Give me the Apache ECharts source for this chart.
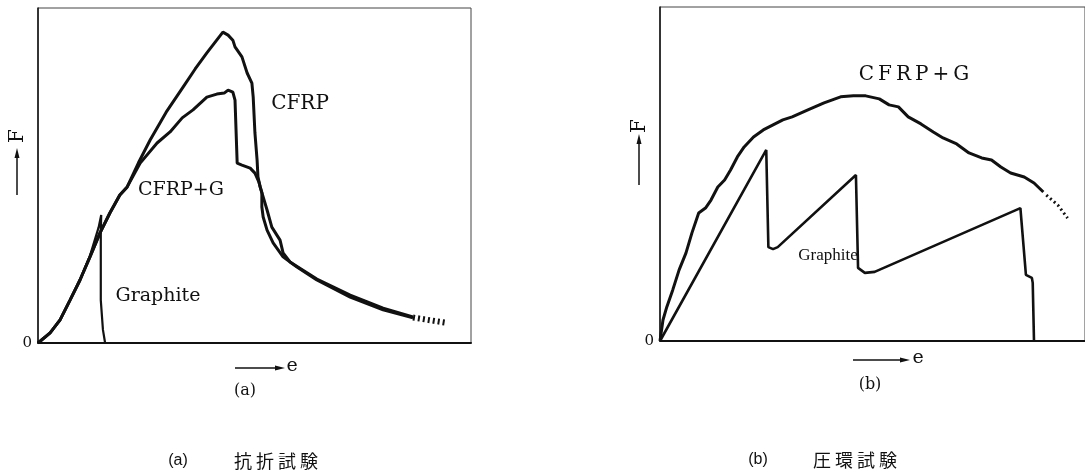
<!DOCTYPE html>
<html>
<head>
<meta charset="utf-8">
<script src="https://cdn.jsdelivr.net/npm/echarts/dist/echarts.min.js"></script>
<style>
  body { margin: 0; background: #fff; }
  #chart { width: 1085px; height: 473px; }
</style>
</head>
<body>
<div id="chart"></div>
<script>
// (a) 抗折試験 — common rising part of CFRP / CFRP+G
var aRise = [[0, 0], [2.8, 3.0], [5.1, 6.9], [7.4, 12.8], [9.7, 18.8], [12.0, 25.7], [14.3, 32.8], [16.6, 38.8], [18.9, 44.2], [20.6, 46.6]];
var aCfrp = [[23.2, 53.8], [25.9, 60.6], [29.6, 68.9], [33.5, 76.4], [36.3, 81.8], [39.0, 86.6], [42.7, 92.8], [43.9, 91.9], [45.0, 90.4], [45.5, 88.4], [47.1, 85.4], [48.3, 80.6], [49.4, 77.6], [49.7, 73.4], [50.1, 62.7], [50.6, 54.6], [50.8, 49.6], [51.3, 46.6], [52.0, 43.6], [52.9, 39.7], [54.0, 34.6], [55.9, 30.7], [56.6, 26.9], [58.2, 24.2], [64.4, 19.1], [72.1, 14.3], [79.7, 10.4], [86.6, 7.8]];
var aCfrpG = [[23.6, 53.7], [27.5, 59.7], [30.5, 63.0], [33.3, 67.2], [35.8, 69.6], [39.0, 73.4], [41.3, 74.3], [43.0, 74.6], [43.9, 75.5], [45.0, 74.9], [45.5, 72.5], [46.0, 53.7], [47.1, 53.1], [49.0, 52.2], [50.1, 50.7], [51.0, 48.1], [51.7, 44.8], [51.7, 40.6], [52.0, 37.6], [52.9, 33.7], [54.3, 29.9], [56.6, 25.7], [59.8, 22.7], [64.4, 18.8], [72.1, 13.7], [79.7, 9.9], [86.6, 7.5]];
var aGraphite = [[0, 0], [2.8, 3.0], [5.1, 6.9], [7.4, 12.8], [9.7, 18.8], [12.0, 26.0], [14.0, 34.5], [14.6, 38.2], [14.5, 33.0], [14.5, 12.8], [15.0, 3.9], [15.5, 0]];
var aTail = [[86.6, 7.6], [94.5, 6.0]];

// (b) 圧環試験
var bCfrpG = [[0, 0], [0.7, 6.3], [1.6, 10.2], [3.0, 15.3], [4.5, 21.3], [6.1, 26.3], [7.5, 32.3], [9.1, 38.3], [10.7, 39.8], [12.0, 42.2], [13.6, 46.1], [15.2, 48.2], [16.6, 51.2], [18.2, 55.1], [19.8, 58.1], [22.0, 61.1], [24.3, 63.2], [26.6, 64.7], [28.9, 66.2], [31.1, 67.1], [34.8, 69.2], [38.6, 71.3], [42.5, 73.1], [45.5, 73.4], [48.4, 73.4], [51.6, 72.5], [53.9, 70.7], [56.1, 70.1], [58.4, 67.1], [61.4, 65.0], [64.3, 62.6], [66.6, 60.8], [69.8, 59.0], [72.7, 56.3], [75.7, 54.8], [78.0, 54.2], [80.2, 52.1], [82.5, 50.3], [85.7, 49.1], [88.0, 47.3], [90.2, 44.6]];
var bTail = [[90.9, 43.7], [93.6, 40.7], [95.9, 36.8]];
var bGraphite = [[0, 0], [25.0, 57.2], [25.5, 28.1], [26.6, 27.5], [27.7, 28.1], [46.1, 49.7], [46.6, 21.9], [48.2, 20.4], [50.5, 20.7], [84.8, 39.8], [86.1, 19.8], [87.5, 18.9], [87.7, 17.4], [88.0, 0]];

var serif = "'DejaVu Serif', 'Liberation Serif', serif";
var ink = "#111";

function xAx(idx) {
  return {
    gridIndex: idx, type: "value", min: 0, max: 100,
    axisLine: { show: true, lineStyle: { color: ink, width: 2 } },
    axisTick: { show: false }, axisLabel: { show: false }, splitLine: { show: false }
  };
}
function yAx(idx) {
  return {
    gridIndex: idx, type: "value", min: 0, max: 100, interval: 100,
    axisLine: { show: true, lineStyle: { color: ink, width: 1.5 } },
    axisTick: { show: false }, splitLine: { show: false },
    axisLabel: {
      margin: 6, color: ink, fontSize: 15, fontFamily: serif,
      formatter: function (v) { return v === 0 ? "0" : ""; }
    }
  };
}
function line(idx, data, w, dash) {
  return {
    type: "line", xAxisIndex: idx, yAxisIndex: idx, data: data,
    symbol: "none", smooth: false, silent: true,
    lineStyle: { color: ink, width: w, type: dash || "solid", cap: "butt" }
  };
}
function txt(x, y, s, size, fam, rot) {
  return {
    type: "text", x: x, y: y, rotation: rot || 0,
    style: { text: s, fill: ink, fontSize: size, fontFamily: fam || serif, align: "center", verticalAlign: "middle" }
  };
}
function arrowUp(x, y1, y2) {
  return [
    { type: "line", shape: { x1: x, y1: y1, x2: x, y2: y2 + 6 }, style: { stroke: ink, lineWidth: 1.5 } },
    { type: "polygon", shape: { points: [[x - 2.5, y2 + 10], [x, y2], [x + 2.5, y2 + 10]] }, style: { fill: ink } }
  ];
}
function arrowRight(x1, x2, y) {
  return [
    { type: "line", shape: { x1: x1, y1: y, x2: x2 - 6, y2: y }, style: { stroke: ink, lineWidth: 1.5 } },
    { type: "polygon", shape: { points: [[x2 - 10, y - 2.5], [x2, y], [x2 - 10, y + 2.5]] }, style: { fill: ink } }
  ];
}

var chart = echarts.init(document.getElementById("chart"));
chart.setOption({
  backgroundColor: "#fff",
  animation: false,
  grid: [
    { left: 38, top: 8, width: 433, height: 335, show: true, borderColor: "#444", borderWidth: 1 },
    { left: 660, top: 7, width: 440, height: 334, show: true, borderColor: "#444", borderWidth: 1 }
  ],
  xAxis: [xAx(0), xAx(1)],
  yAxis: [yAx(0), yAx(1)],
  series: [
    line(0, aRise.concat(aCfrp), 3),
    line(0, aRise.concat(aCfrpG), 3),
    line(0, aGraphite, 2.2),
    line(0, aTail, 6, [2, 3]),
    line(1, bCfrpG, 3),
    line(1, bTail, 3, [2, 3]),
    line(1, bGraphite, 2.6)
  ],
  graphic: [].concat(
    [
      txt(300, 104, "CFRP", 20),
      txt(181, 190, "CFRP+G", 19),
      txt(158, 296, "Graphite", 19),
      txt(914, 75, "C\u2009F\u2009R\u2009P\u2009+\u2009G", 20),
      txt(828, 256, "Graphite", 17, "'Liberation Serif', serif"),
      txt(18, 136, "F", 20, null, Math.PI / 2),
      txt(640, 126, "F", 20, null, Math.PI / 2),
      txt(292, 366, "e", 19),
      txt(918, 358, "e", 19),
      txt(245, 391, "(a)", 16),
      txt(870, 385, "(b)", 16),
      txt(178, 461, "(a)", 16, "'Liberation Sans', sans-serif"),
      txt(276, 461, "抗 折 試 験", 18, "'Noto Sans CJK JP', sans-serif"),
      txt(758, 460, "(b)", 16, "'Liberation Sans', sans-serif"),
      txt(855, 460, "圧 環 試 験", 18, "'Noto Sans CJK JP', sans-serif")
    ],
    arrowUp(17, 195, 148),
    arrowUp(639, 185, 134),
    arrowRight(235, 285, 368),
    arrowRight(853, 910, 360)
  )
});
</script>
</body>
</html>
